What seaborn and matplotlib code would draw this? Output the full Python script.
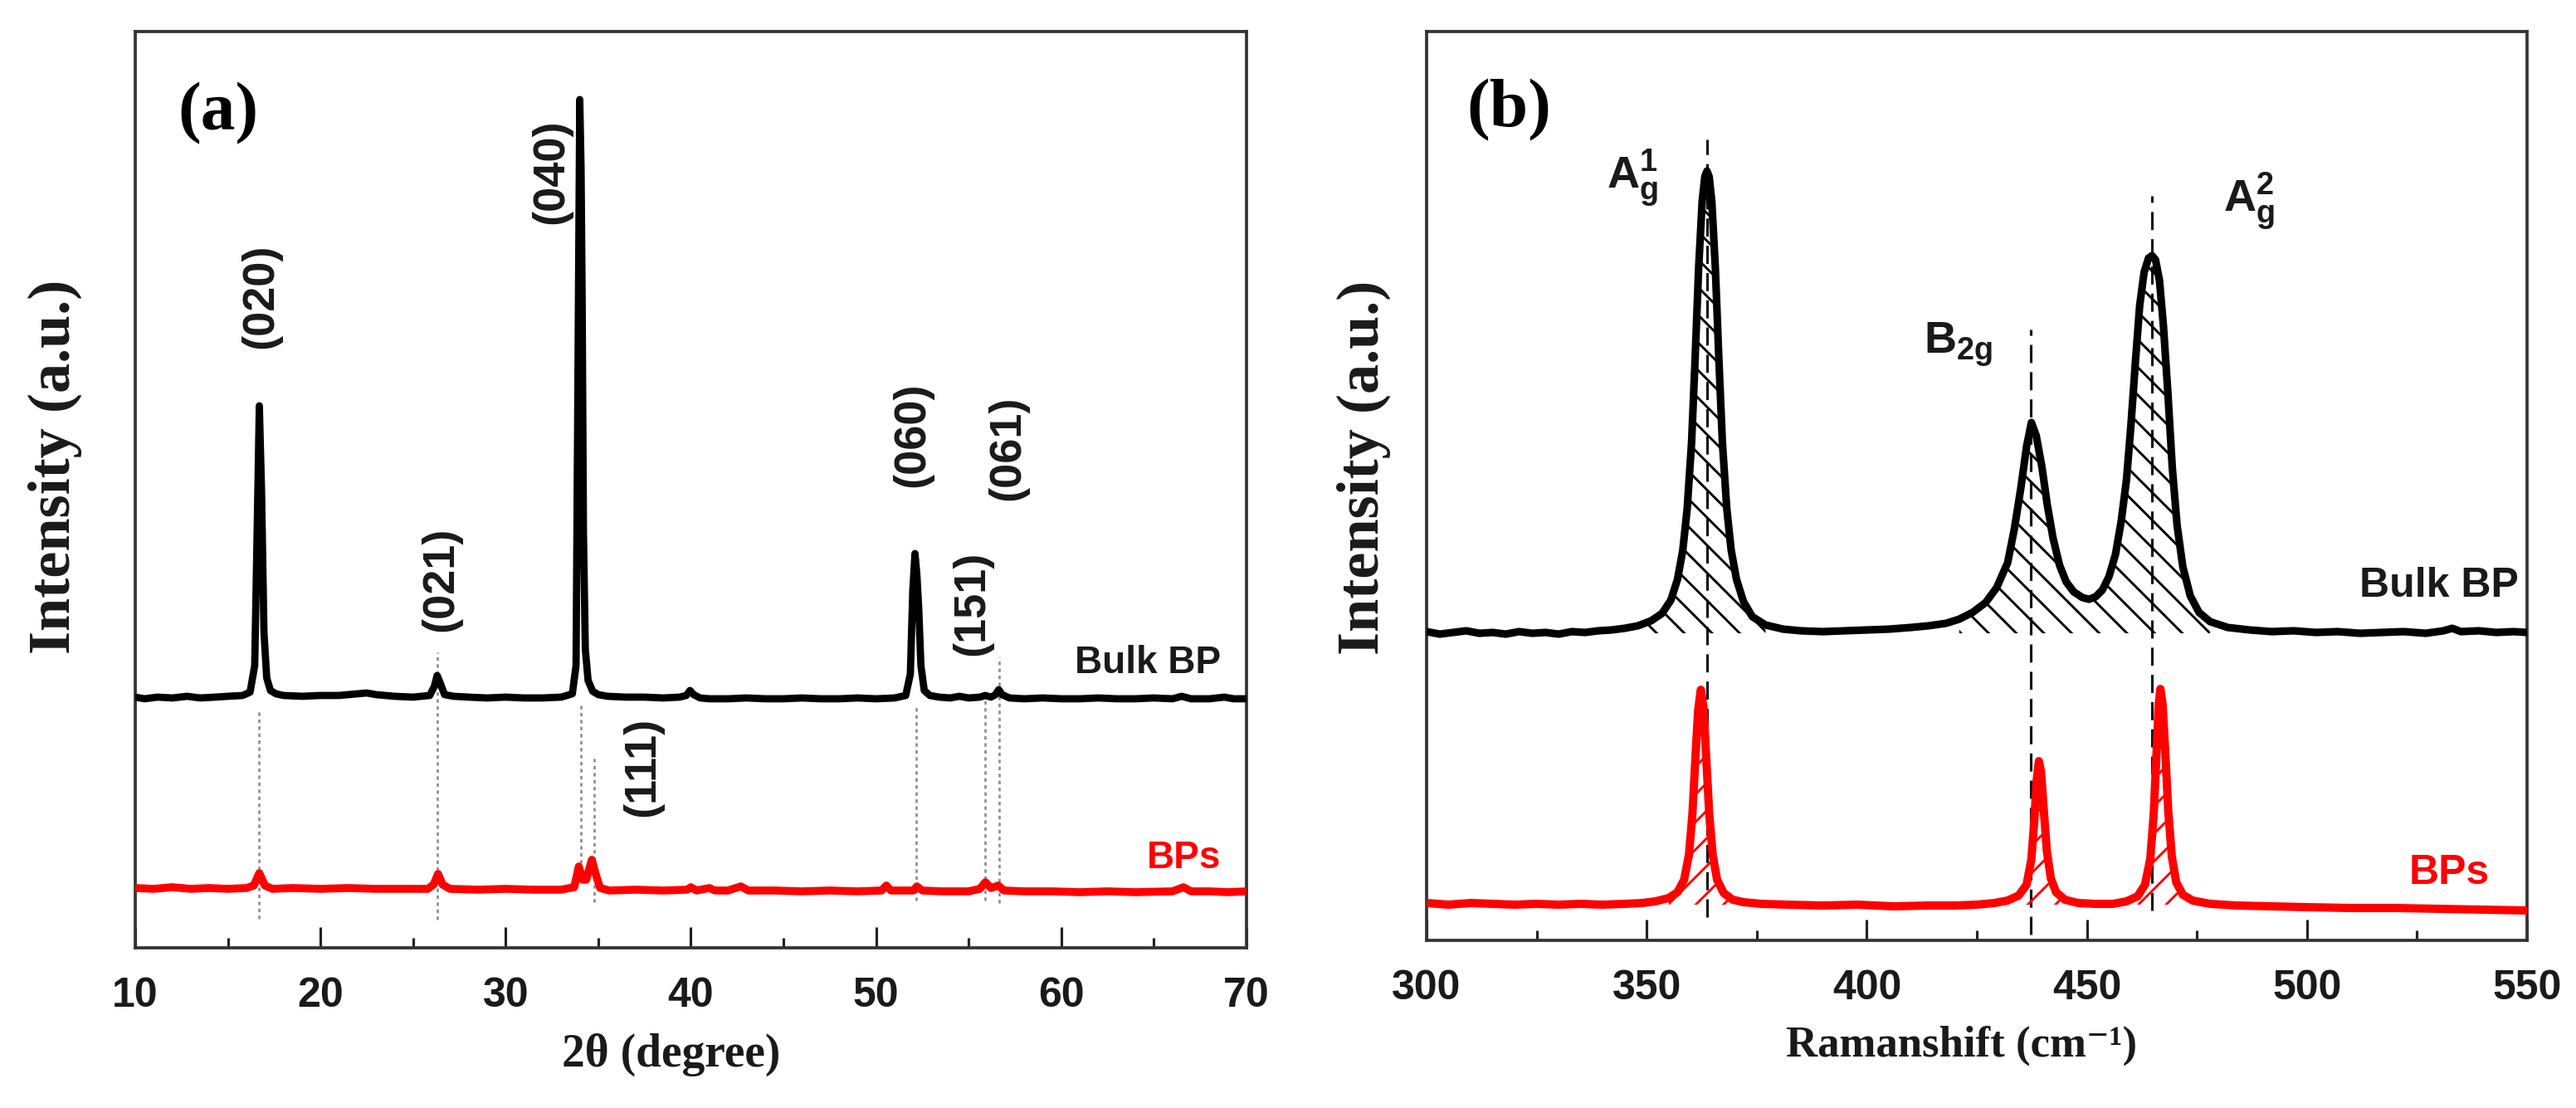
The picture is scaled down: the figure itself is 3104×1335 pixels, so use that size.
import numpy as np
import pandas as pd
import matplotlib
matplotlib.use('Agg')
import matplotlib.pyplot as plt
from matplotlib.ticker import MultipleLocator
import seaborn as sns

# ---------------- (a) XRD, intensity above each trace's own baseline (a.u.)
xrd_bulk_2theta = [10.0, 10.5, 11.2, 12.0, 12.8, 13.5, 14.3, 15.0, 15.8, 16.2, 16.45, 16.58, 16.7, 16.82,
                   16.95, 17.1, 17.3, 17.6, 18.0, 19.0, 20.0, 21.0, 22.0, 22.5, 23.0, 24.0, 25.0, 25.9,
                   26.15, 26.3, 26.45, 26.7, 27.2, 28.0, 29.0, 30.0, 31.0, 32.0, 33.0, 33.6, 33.8, 33.9,
                   34.0, 34.07, 34.13, 34.2, 34.3, 34.45, 34.7, 35.0, 35.5, 36.5, 37.5, 38.5, 39.4, 39.75,
                   39.95, 40.15, 40.5, 41.0, 42.0, 43.0, 44.0, 45.0, 46.0, 47.0, 48.0, 49.0, 50.0, 51.0,
                   51.6, 51.85, 51.98, 52.1, 52.2, 52.3, 52.42, 52.6, 52.9, 53.4, 54.0, 54.5, 55.0, 55.6,
                   55.9, 56.2, 56.45, 56.62, 56.8, 57.2, 58.0, 59.0, 60.0, 61.0, 62.0, 63.0, 64.0, 65.0,
                   66.0, 66.5, 67.0, 68.0, 68.8, 69.3, 70.0]
xrd_bulk_int = [2, 0, 2, 1, 3, 1, 2, 3, 4, 8, 40, 200, 353, 250,
                80, 25, 10, 6, 4, 3, 4, 4, 6, 7, 5, 3, 2, 4,
                15, 28, 20, 5, 3, 2, 1, 2, 1, 1, 2, 6, 40, 380,
                722, 640, 480, 200, 60, 22, 9, 5, 3, 2, 2, 1, 2, 4,
                10, 5, 1, 0, 0, 1, 0, 0, 1, 0, 0, 1, 0, 1,
                4, 30, 130, 175, 150, 110, 40, 10, 4, 2, 1, 3, 1, 2,
                4, 2, 5, 11, 5, 1, 0, 1, 0, 0, 1, 0, 0, 1,
                0, 3, 0, 0, 2, 0, 0]

xrd_bps_2theta = [10.0, 11.0, 12.0, 13.0, 14.0, 15.0, 16.0, 16.4, 16.7, 17.0, 17.4, 18.5, 20.0, 21.5,
                  23.0, 24.5, 25.8, 26.1, 26.35, 26.6, 27.0, 28.5, 30.0, 31.5, 33.0, 33.7, 33.95, 34.15,
                  34.35, 34.65, 34.9, 35.1, 35.6, 37.0, 38.5, 39.8, 40.0, 40.3, 41.0, 41.3, 42.0, 42.7,
                  43.1, 44.5, 46.0, 47.5, 49.0, 50.3, 50.55, 50.8, 52.0, 52.2, 52.5, 53.5, 55.0, 55.6,
                  55.9, 56.2, 56.6, 56.9, 58.0, 59.5, 61.0, 62.5, 64.0, 66.0, 66.6, 67.0, 68.0, 69.0, 70.0]
xrd_bps_int = [4, 3, 5, 3, 4, 3, 4, 7, 22, 7, 3, 4, 3, 4,
               3, 3, 3, 8, 21, 8, 3, 2, 3, 2, 2, 5, 30, 14,
               14, 38, 18, 4, 1, 2, 1, 2, 5, 1, 4, 1, 1, 6,
               1, 1, 0, 1, 0, 1, 7, 1, 1, 6, 1, 0, 0, 3,
               11, 4, 7, 1, 0, 0, -1, 0, -1, 0, 5, 0, 0, -1, 0]

xrd_offset_bulk = 300
xrd_offset_bps = 68

hkl_labels = ['(020)', '(021)', '(040)', '(060)', '(151)', '(061)', '(111)']
hkl_label_x = [16.8, 26.5, 32.45, 51.95, 55.2, 57.1, 37.4]
hkl_label_y = [785, 444, 935, 618, 415, 602, 218]

ref_2theta = [16.7, 26.3, 34.05, 34.8, 52.18, 55.9, 56.65]
ref_top = [287, 356, 293, 232, 293, 305, 350]
ref_bottom = [35, 34, 102, 55, 57, 57, 54]

# ---------------- (b) Raman
raman_bulk_shift = [300, 303, 306, 309, 312, 315, 318, 321, 324, 327, 330, 333, 336, 339, 342, 345, 348,
                    351, 353.5, 355.5, 357, 358.2, 359.2, 360.2, 361.0, 361.8, 362.6, 363.2, 363.7, 364.2,
                    364.8, 365.6, 366.4, 367.2, 368.2, 369.2, 370.4, 372.0, 374.0, 377.0, 381.0, 385, 390,
                    395, 400, 405, 410, 414, 418, 421, 424, 427, 429.5, 432, 433.5, 435, 436.3,
                    437.4, 438.5, 439.8, 441, 442.3, 443.8, 445.3, 447, 449, 450.5, 452, 453.5, 455,
                    456.5, 457.8, 459, 460, 461, 462, 463, 464, 464.8, 465.6, 466.5, 467.4, 468.4, 469.4,
                    470.5, 471.8, 473.5, 475.5, 478, 482, 487, 492, 497, 502, 507, 512, 517, 522, 527, 531,
                    533, 535, 539, 543, 547, 550]
raman_bulk_int = [2, -1, 1, 3, 0, 1, -1, 2, 0, 1, -1, 2, 1, 3, 4, 6, 9,
                  15, 24, 40, 65, 100, 150, 230, 330, 440, 520, 550, 557, 550,
                  520, 440, 330, 230, 150, 100, 65, 38, 20, 10, 5, 3, 2,
                  3, 4, 5, 7, 9, 12, 17, 25, 37, 55, 85, 125, 175, 225,
                  254, 238, 200, 155, 115, 82, 62, 50, 43, 41, 44, 52, 68,
                  95, 135, 185, 250, 325, 395, 435, 452, 455, 450, 425, 370, 290, 200,
                  130, 80, 45, 25, 14, 7, 4, 2, 3, 1, 2, 0, 1, 2, 0, 3,
                  6, 2, 3, 1, 2, 1]

raman_bps_shift = [300, 305, 310, 315, 320, 325, 330, 335, 340, 345, 349, 352, 355, 357, 358.5, 359.6,
                   360.4, 361.1, 361.7, 362.3, 362.9, 363.5, 364.2, 365, 366, 367.5, 369.5, 372, 376, 382,
                   390, 398, 406, 414, 420, 425, 429, 432, 434.5, 436.3, 437.4, 438.1, 438.6, 439.1, 439.6,
                   440.2, 440.9, 441.8, 443, 445, 448, 452, 456, 459, 461.5, 463.2, 464.4, 465.2, 465.8,
                   466.3, 466.7, 467.2, 467.8, 468.5, 469.3, 470.3, 471.8, 474, 478, 484, 492, 500, 510,
                   520, 530, 540, 550]
raman_bps_int = [2, 0, 2, 1, 0, 1, 0, 1, 0, 1, 2, 4, 8, 15, 30, 60,
                 110, 180, 235, 259, 238, 180, 110, 60, 30, 14, 6, 3, 1, 0,
                 -1, 0, -2, -1, -1, 0, 2, 5, 11, 24, 55, 105, 150, 173, 160,
                 115, 65, 32, 15, 6, 2, 1, 1, 4, 10, 24, 55, 110, 180,
                 240, 260, 242, 185, 112, 58, 27, 12, 5, 1, -1, -2, -3, -4,
                 -4, -5, -6, -7]

raman_offset_bulk = 370
raman_offset_bps = 43

mode_labels = ['A$_{\\mathregular{g}}^{\\mathregular{1}}$', 'B$_{\\mathregular{2g}}$',
               'A$_{\\mathregular{g}}^{\\mathregular{2}}$']
mode_label_x = [341.0, 413.0, 481.0]
mode_label_y = [906, 707, 878]

mode_lines = [363.7, 437.3, 464.8]
mode_line_top = [965, 736, 897]
mode_line_bottom = [28, 7, 36]

SERIF = ['Liberation Serif', 'DejaVu Serif']
DARK = '#1a1a1a'

sns.set_theme(style='white')
plt.rcParams['font.family'] = ['Liberation Sans', 'DejaVu Sans']
plt.rcParams['font.weight'] = 'bold'
plt.rcParams['hatch.linewidth'] = 2.1
plt.rcParams['axes.linewidth'] = 2.7
plt.rcParams['axes.edgecolor'] = '#333333'

fig = plt.figure(figsize=(31.04, 13.35), dpi=100)
ax_a = fig.add_axes([0.0525, 0.1446, 0.4314, 0.827])
ax_b = fig.add_axes([0.5538, 0.1513, 0.4272, 0.8202])


def style_axis(ax, major, minor, xlim, ylim):
    ax.set_xlim(*xlim)
    ax.set_ylim(*ylim)
    ax.set_xticks(major)
    ax.xaxis.set_minor_locator(MultipleLocator(minor))
    ax.set_yticks([])
    ax.tick_params(axis='x', which='both', direction='in', bottom=True, top=False,
                   width=2.25, color='#222222', labelsize=36, pad=25, labelcolor=DARK)
    ax.tick_params(axis='x', which='major', length=18)
    ax.tick_params(axis='x', which='minor', length=9)
    for sp in ax.spines.values():
        sp.set_visible(True)
        sp.set_linewidth(2.7)
        sp.set_color('#333333')


# ---- panel (a)
bulk_a = pd.DataFrame({'two_theta': xrd_bulk_2theta,
                       'intensity': np.array(xrd_bulk_int) + xrd_offset_bulk})
bps_a = pd.DataFrame({'two_theta': xrd_bps_2theta,
                      'intensity': np.array(xrd_bps_int) + xrd_offset_bps})

ax_a.vlines(ref_2theta, ref_bottom, ref_top, colors='#8c8c8c', linestyles=(0, (1.6, 1.6)),
            linewidth=1.9, zorder=1)
sns.lineplot(data=bulk_a, x='two_theta', y='intensity', ax=ax_a, color='black',
             linewidth=6.3, estimator=None, sort=False, zorder=3)
sns.lineplot(data=bps_a, x='two_theta', y='intensity', ax=ax_a, color='#ff0000',
             linewidth=6.9, estimator=None, sort=False, zorder=3)

for lab, x, y in zip(hkl_labels, hkl_label_x, hkl_label_y):
    ax_a.text(x, y, lab, rotation=90, ha='center', va='center', fontsize=39,
              fontweight='bold', color=DARK)

ax_a.text(68.6, 343, 'Bulk BP', ha='right', va='center', fontsize=33, color=DARK)
ax_a.text(68.6, 108, 'BPs', ha='right', va='center', fontsize=33, color='#ff0000')
ax_a.text(0.0747, 0.91, '(a)', transform=ax_a.transAxes, ha='center', va='center',
          family=SERIF, fontsize=60, fontweight='bold', color='black')

style_axis(ax_a, np.arange(10, 71, 10), 5, (10, 70), (0, 1104))
ax_a.set_xlabel('2θ (degree)', family=SERIF, fontsize=40, fontweight='bold', labelpad=16,
                color=DARK, x=0.482)
ax_a.set_ylabel('Intensity (a.u.)', family=SERIF, fontsize=52, fontweight='bold', labelpad=46,
                color=DARK, y=0.525)

# ---- panel (b)
rs_bulk = np.array(raman_bulk_shift)
rs_bps = np.array(raman_bps_shift)
bulk_b = pd.DataFrame({'shift': rs_bulk, 'intensity': np.array(raman_bulk_int) + raman_offset_bulk})
bps_b = pd.DataFrame({'shift': rs_bps, 'intensity': np.array(raman_bps_int) + raman_offset_bps})

hatch_bulk = ((rs_bulk >= 347) & (rs_bulk <= 378)) | ((rs_bulk >= 419) & (rs_bulk <= 479))
ax_b.fill_between(rs_bulk, raman_offset_bulk, bulk_b['intensity'], where=hatch_bulk,
                  facecolor='none', edgecolor='black', hatch='\\', linewidth=0, zorder=2)
hatch_bps = (((rs_bps >= 354) & (rs_bps <= 371)) | ((rs_bps >= 433) & (rs_bps <= 446))
             | ((rs_bps >= 460) & (rs_bps <= 474)))
ax_b.fill_between(rs_bps, raman_offset_bps, bps_b['intensity'], where=hatch_bps,
                  facecolor='none', edgecolor='#ff0000', hatch='/', linewidth=0, zorder=2)

ax_b.vlines(mode_lines, mode_line_bottom, mode_line_top, colors='#111111',
            linestyles=(0, (7, 3.5)), linewidth=2.25, zorder=1)
sns.lineplot(data=bulk_b, x='shift', y='intensity', ax=ax_b, color='black',
             linewidth=6.6, estimator=None, sort=False, zorder=3)
sns.lineplot(data=bps_b, x='shift', y='intensity', ax=ax_b, color='#ff0000',
             linewidth=7.2, estimator=None, sort=False, zorder=3)

for lab, x, y in zip(mode_labels, mode_label_x, mode_label_y):
    ax_b.text(x, y, lab, ha='left', va='baseline', fontsize=39, fontweight='bold', color=DARK)

ax_b.text(548.0, 427, 'Bulk BP', ha='right', va='center', fontsize=36, color=DARK)
ax_b.text(541.5, 81, 'BPs', ha='right', va='center', fontsize=36, color='#ff0000')
ax_b.text(0.0747, 0.913, '(b)', transform=ax_b.transAxes, ha='center', va='center',
          family=SERIF, fontsize=60, fontweight='bold', color='black')

style_axis(ax_b, np.arange(300, 551, 50), 25, (300, 550), (0, 1095))
ax_b.set_xlabel('Ramanshift (cm⁻¹)', family=SERIF, fontsize=38,
                fontweight='bold', labelpad=16, color=DARK, x=0.486)
ax_b.set_ylabel('Intensity (a.u.)', family=SERIF, fontsize=52, fontweight='bold', labelpad=31,
                color=DARK, y=0.52)

fig.savefig('out.png', dpi=100, facecolor='white')
